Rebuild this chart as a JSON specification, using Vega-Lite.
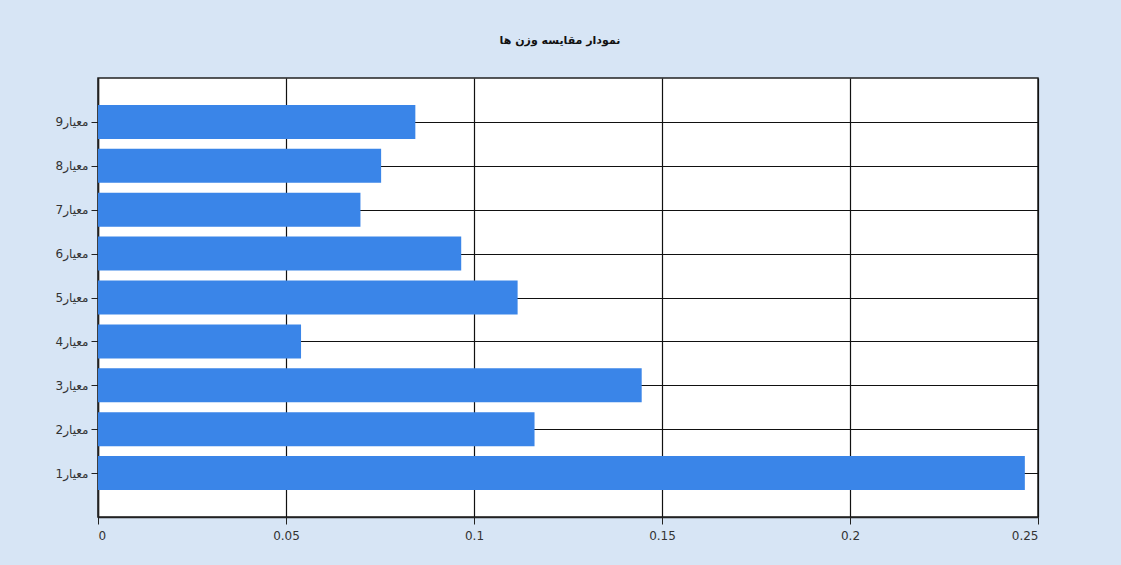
{
  "$schema": "https://vega.github.io/schema/vega-lite/v6.json",
  "width": 940,
  "height": 439,
  "autosize": {"type": "none"},
  "padding": {"left": 98, "top": 78, "right": 83, "bottom": 48},
  "background": "#d7e5f5",
  "title": {
    "text": "نمودار مقایسه وزن ها",
    "font": "DejaVu Sans",
    "fontSize": 11,
    "fontWeight": "bold",
    "color": "#111111",
    "offset": 32,
    "dx": -8
  },
  "config": {
    "view": {"stroke": "#222222", "strokeWidth": 1.5, "fill": "#ffffff"},
    "axis": {
      "labelFont": "DejaVu Sans",
      "labelFontSize": 12,
      "labelColor": "#333333",
      "gridColor": "#111111",
      "gridOpacity": 1,
      "gridWidth": 1.2,
      "domainColor": "#222222",
      "domainWidth": 1.5,
      "tickColor": "#222222",
      "tickSize": 7,
      "title": null
    }
  },
  "data": {
    "values": [
      {"rank": 1, "weight": 0.2465},
      {"rank": 2, "weight": 0.1161},
      {"rank": 3, "weight": 0.1446},
      {"rank": 4, "weight": 0.0540},
      {"rank": 5, "weight": 0.1116},
      {"rank": 6, "weight": 0.0966},
      {"rank": 7, "weight": 0.0698},
      {"rank": 8, "weight": 0.0753},
      {"rank": 9, "weight": 0.0844}
    ]
  },
  "mark": {"type": "bar", "color": "#3a85e8", "size": 34, "orient": "horizontal"},
  "encoding": {
    "y": {
      "field": "rank",
      "type": "quantitative",
      "scale": {"domain": [0, 10], "nice": false, "padding": 0},
      "axis": {
        "values": [1, 2, 3, 4, 5, 6, 7, 8, 9],
        "labelExpr": "'معیار' + datum.value",
        "labelPadding": 3,
        "labelFontSize": 12
      }
    },
    "x": {
      "field": "weight",
      "type": "quantitative",
      "scale": {"domain": [0, 0.25], "nice": false, "padding": 0},
      "axis": {
        "values": [0, 0.05, 0.1, 0.15, 0.2, 0.25],
        "format": "~g",
        "labelPadding": 6
      }
    }
  }
}
